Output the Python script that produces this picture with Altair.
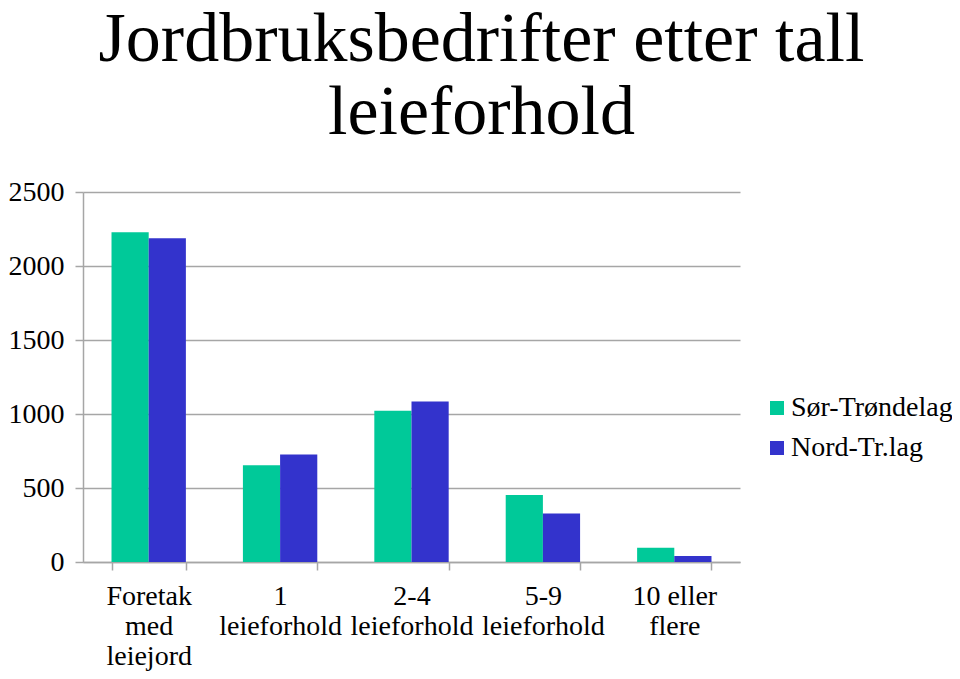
import altair as alt
import pandas as pd

categories = ["Foretak|med|leiejord", "1|leieforhold", "2-4|leieforhold", "5-9|leieforhold", "10 eller|flere"]
series = ["Sør-Trøndelag", "Nord-Tr.lag"]
sor_trondelag = [2228, 653, 1022, 452, 97]
nord_trlag = [2187, 726, 1085, 327, 41]
colors = ["#00C999", "#3333CC"]
y_ticks = [0, 500, 1000, 1500, 2000, 2500]
title_lines = ["Jordbruksbedrifter etter tall", "leieforhold"]

rows = []
for c, a, b in zip(categories, sor_trondelag, nord_trlag):
    rows.append({"kategori": c, "serie": series[0], "verdi": a})
    rows.append({"kategori": c, "serie": series[1], "verdi": b})
df = pd.DataFrame(rows)

FONT = "Liberation Serif"
GRAY = "#A6A6A6"

chart = alt.Chart(df).mark_bar().encode(
    x=alt.X("kategori:N", sort=categories, title=None,
            scale=alt.Scale(paddingInner=0.434, paddingOuter=0.217),
            axis=alt.Axis(labelAngle=0, labelExpr="split(datum.label, '|')",
                          labelFontSize=28, labelFont=FONT, labelColor="black",
                          labelLineHeight=30, labelPadding=12, labelLimit=300,
                          tickBand="extent", tickSize=8, tickColor=GRAY,
                          domainColor=GRAY, domainWidth=1.5, tickWidth=1.5,
                          grid=False)),
    xOffset=alt.XOffset("serie:N", sort=series),
    y=alt.Y("verdi:Q", title=None,
            scale=alt.Scale(domain=[0, 2500], nice=False),
            axis=alt.Axis(values=y_ticks, format="d", labelFontSize=28, labelFont=FONT,
                          labelColor="black", labelPadding=11, tickSize=8,
                          tickColor=GRAY, tickWidth=1.5, domainColor=GRAY,
                          domainWidth=1.5, gridColor=GRAY, gridWidth=1.5)),
    color=alt.Color("serie:N", sort=series,
                    scale=alt.Scale(domain=series, range=colors),
                    legend=alt.Legend(title=None, orient="none", legendX=680, legendY=202,
                                      symbolType="square", symbolSize=196,
                                      symbolStrokeWidth=0, labelFontSize=28,
                                      labelFont=FONT, labelColor="black", labelLimit=400,
                                      labelOffset=0, rowPadding=12, padding=0)),
).properties(
    width=657,
    height=370,
    title=alt.TitleParams(title_lines,
                          font=FONT, fontSize=70, fontWeight="normal",
                          color="black", lineHeight=73, anchor="middle",
                          dx=70, offset=29),
    autosize=alt.AutoSizeParams(type="none"),
    padding={"left": 75, "top": 184, "right": 212, "bottom": 109},
).configure_view(stroke=None).configure_title(font=FONT, fontWeight="normal")

chart.save("out.html", embed_options={"renderer": "svg", "actions": False})
